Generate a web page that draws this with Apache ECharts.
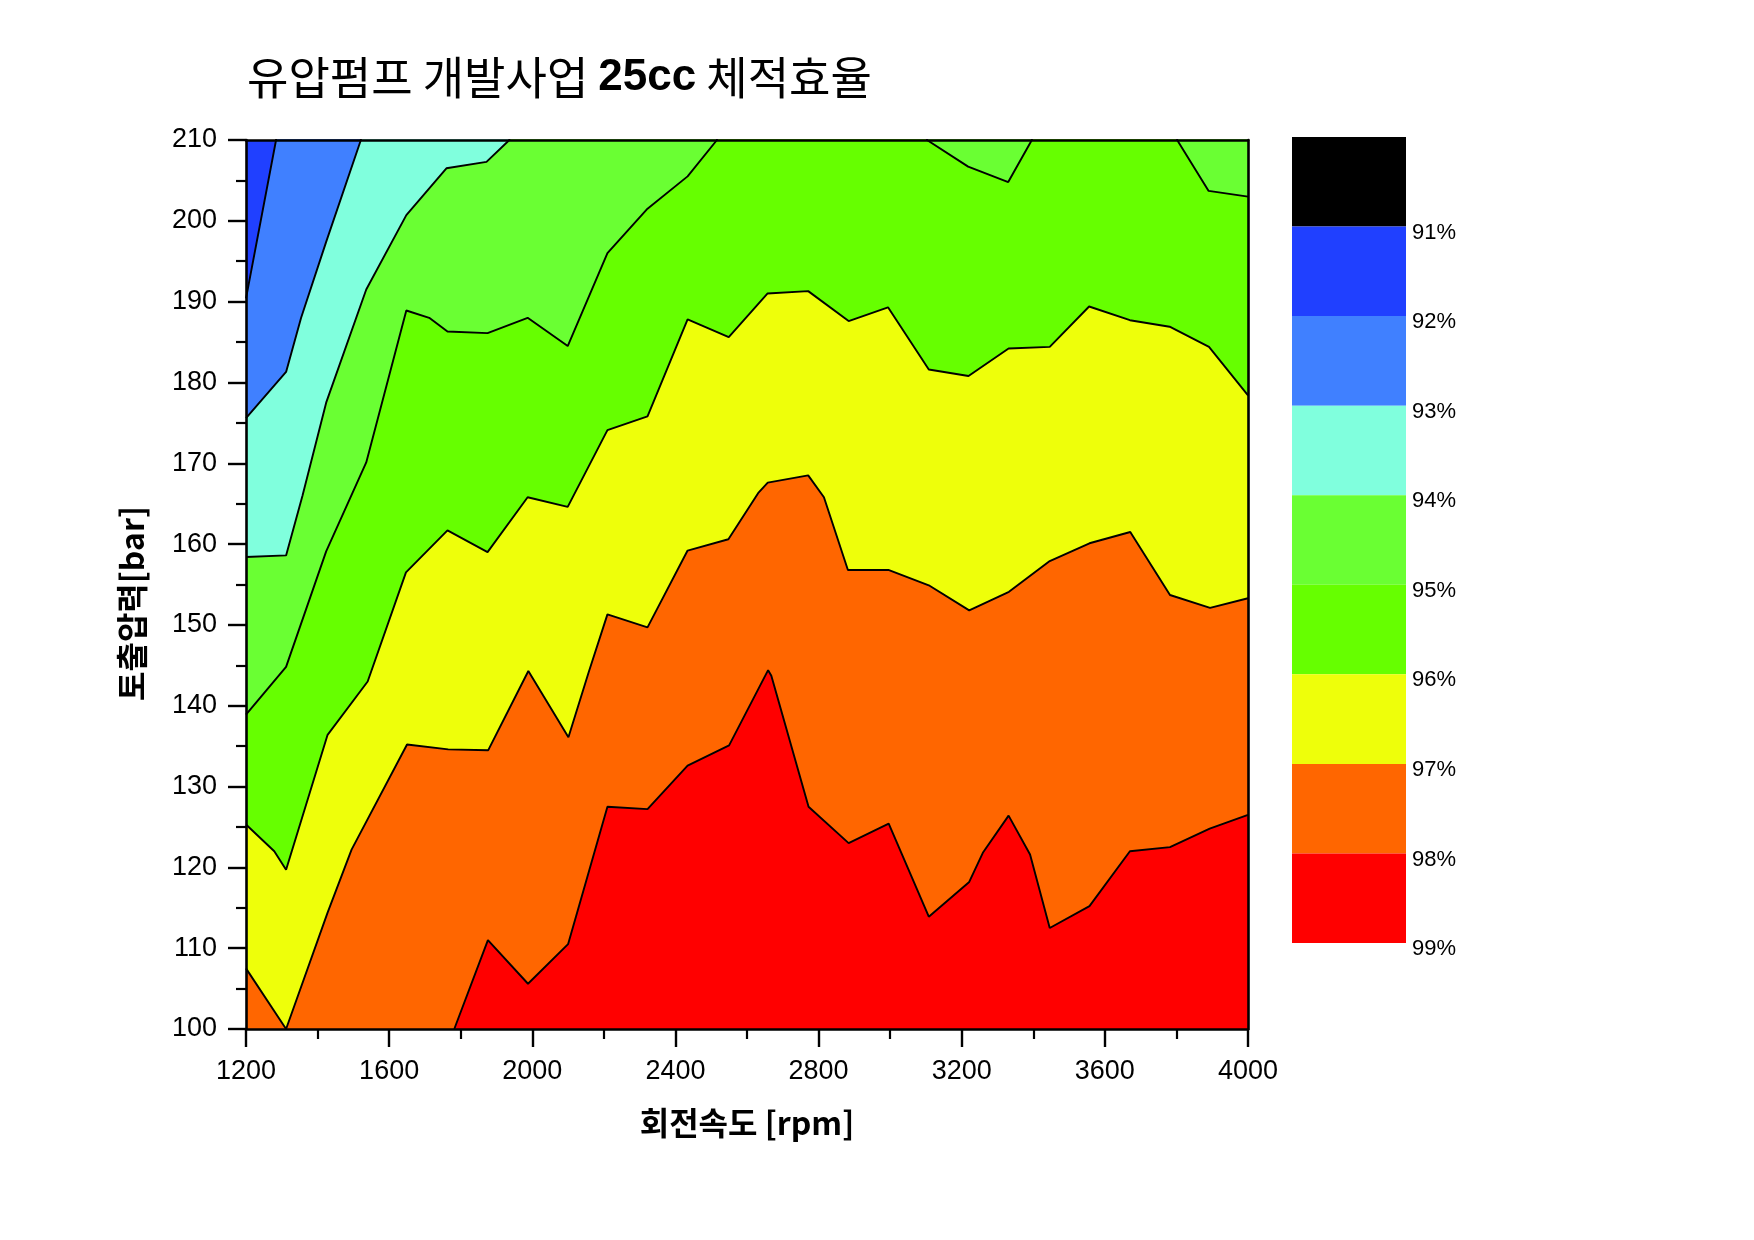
<!DOCTYPE html>
<html>
<head>
<meta charset="utf-8">
<script src="https://cdn.jsdelivr.net/npm/echarts@6/dist/echarts.min.js"></script>
<style>
html,body{margin:0;padding:0;background:#fff;}
#chart{width:1754px;height:1240px;}
</style>
</head>
<body>
<div id="chart"></div>
<script>
// ---- axis settings ----
const xTitle = '회전속도 [rpm]';
const yTitle = '토출압력[bar]';
const chartTitleParts = ['유압펌프 개발사업 ', '25cc', ' 체적효율'];
const xRange = [1200, 4000];
const yRange = [100, 210];

// ---- contour level colours (top of colour bar to bottom) ----
const levelColors = ['#000000', '#2040FF', '#4080FF', '#80FFDD', '#6AFF33', '#66FF00', '#EEFF0A', '#FF6600', '#FF0000'];
const colorbarLabels = ['91%', '92%', '93%', '94%', '95%', '96%', '97%', '98%', '99%'];

// ---- contour boundaries [rpm, bar] (values above 210 run out of the plot top) ----
const region91 = [[1200, 230], [4000, 230]];
const c92 = [[1200, 190.4], [1284, 210], [1290, 230], [4000, 230]];
const c93 = [[1200, 175.6], [1312, 181.3], [1354, 188.0], [1424, 197.4], [1521, 210], [1527, 230], [4000, 230]];
const c94 = [[1200, 158.4], [1312, 158.6], [1358, 166.0], [1424, 177.5], [1536, 191.5], [1648, 200.7], [1760, 206.5], [1872, 207.3], [1936, 210], [1942, 230], [4000, 230]];
const c95 = [[1200, 138.9], [1312, 144.8], [1424, 159.1], [1536, 170.1], [1648, 188.9], [1712, 188.0], [1763, 186.3], [1875, 186.1], [1987, 188.0], [2099, 184.5], [2210, 196.0], [2322, 201.5], [2434, 205.5], [2516, 210], [2522, 230], [3097, 230], [3103, 210], [3218, 206.7], [3330, 204.8], [3396, 210], [3402, 230], [3796, 230], [3802, 210], [3890, 203.7], [4000, 203.0]];
const c96 = [[1200, 125.3], [1279, 122.0], [1312, 119.7], [1428, 136.4], [1540, 143.0], [1647, 156.5], [1763, 161.7], [1875, 159.0], [1987, 165.8], [2099, 164.6], [2210, 174.1], [2322, 175.8], [2434, 187.8], [2549, 185.6], [2657, 191.0], [2771, 191.3], [2884, 187.6], [2994, 189.3], [3108, 181.6], [3219, 180.8], [3331, 184.2], [3446, 184.4], [3556, 189.4], [3670, 187.7], [3781, 186.9], [3891, 184.4], [4000, 178.4]];
const c97 = [[1200, 107.5], [1312, 100.0], [1428, 114.4], [1495, 122.2], [1650, 135.2], [1765, 134.6], [1877, 134.5], [1989, 144.3], [2101, 136.1], [2158, 144.2], [2210, 151.3], [2322, 149.7], [2434, 159.2], [2548, 160.6], [2631, 166.3], [2658, 167.6], [2771, 168.5], [2815, 165.8], [2882, 156.8], [2995, 156.8], [3108, 154.9], [3221, 151.8], [3332, 154.1], [3446, 157.9], [3557, 160.1], [3671, 161.5], [3782, 153.7], [3894, 152.1], [4000, 153.3]];
const c98 = [[1782, 100.0], [1876, 111.0], [1988, 105.6], [2100, 110.5], [2210, 127.5], [2322, 127.2], [2434, 132.6], [2550, 135.1], [2659, 144.4], [2668, 143.7], [2772, 127.5], [2884, 123.0], [2996, 125.4], [3108, 113.9], [3221, 118.2], [3259, 121.8], [3331, 126.4], [3391, 121.6], [3446, 112.5], [3557, 115.2], [3670, 122.0], [3782, 122.5], [3893, 124.8], [4000, 126.5]];

const boundaries = [region91, c92, c93, c94, c95, c96, c97, c98];
const fillColors = levelColors.slice(1); // 91-92 ... 98-99

const chart = echarts.init(document.getElementById('chart'), null, {renderer: 'canvas'});

const tickFont = 'Liberation Sans, Arial, sans-serif';
const krFont = 'Noto Sans CJK KR, sans-serif';

const contourSeries = boundaries.map((pts, i) => ({
  type: 'line',
  name: 'level' + i,
  xAxisIndex: 0,
  yAxisIndex: 0,
  data: pts,
  symbol: 'none',
  smooth: false,
  clip: true,
  silent: true,
  lineStyle: {color: '#000', width: i === 0 ? 0 : 1.9},
  areaStyle: {color: fillColors[i], opacity: 1, origin: 'start'},
  z: 2
}));

const colorbarSeries = levelColors.map((c, i) => ({
  type: 'bar',
  xAxisIndex: 2,
  yAxisIndex: 2,
  stack: 'cb',
  data: [1],
  barWidth: '100%',
  silent: true,
  itemStyle: {color: c},
  z: 2
}));

const option = {
  animation: false,
  backgroundColor: '#fff',
  title: {
    text: '{a|' + chartTitleParts[0] + '}{b|' + chartTitleParts[1] + '}{a|' + chartTitleParts[2] + '}',
    left: 242,
    top: 50,
    textStyle: {
      rich: {
        a: {fontFamily: krFont, fontSize: 45, color: '#000', fontWeight: 'normal'},
        b: {fontFamily: tickFont, fontSize: 44, color: '#000', fontWeight: 'bold'}
      }
    }
  },
  grid: [
    {left: 246, top: 140, width: 1002, height: 889, show: false},
    {left: 1292, top: 137, width: 114, height: 806, show: false}
  ],
  xAxis: [
    {
      type: 'value', gridIndex: 0, min: xRange[0], max: xRange[1], interval: 400, z: 10,
      name: xTitle, nameLocation: 'middle', nameGap: 78,
      nameTextStyle: {fontFamily: krFont, fontSize: 32, fontWeight: 'bold', color: '#000', lineHeight: 32},
      axisLine: {show: true, onZero: false, lineStyle: {color: '#000', width: 2.6}},
      axisTick: {show: true, inside: false, length: 18, lineStyle: {color: '#000', width: 2.4}},
      minorTick: {show: true, splitNumber: 2, length: 10, lineStyle: {color: '#000', width: 2.2}},
      axisLabel: {fontFamily: tickFont, fontSize: 27, color: '#000', margin: 29, formatter: v => String(v)},
      splitLine: {show: false}
    },
    {
      type: 'value', gridIndex: 0, position: 'top', min: xRange[0], max: xRange[1], interval: 400, z: 10,
      axisLine: {show: true, onZero: false, lineStyle: {color: '#000', width: 2.6}},
      axisTick: {show: false}, axisLabel: {show: false}, splitLine: {show: false}
    },
    {
      type: 'category', gridIndex: 1, data: ['cb'], show: false
    }
  ],
  yAxis: [
    {
      type: 'value', gridIndex: 0, min: yRange[0], max: yRange[1], interval: 10, z: 10,
      name: yTitle, nameLocation: 'middle', nameRotate: 90, nameGap: 98,
      nameTextStyle: {fontFamily: krFont, fontSize: 32, fontWeight: 'bold', color: '#000', lineHeight: 32, padding: [0, 38, 0, 0]},
      axisLine: {show: true, onZero: false, lineStyle: {color: '#000', width: 2.6}},
      axisTick: {show: true, inside: false, length: 18, lineStyle: {color: '#000', width: 2.4}},
      minorTick: {show: true, splitNumber: 2, length: 10, lineStyle: {color: '#000', width: 2.2}},
      axisLabel: {fontFamily: tickFont, fontSize: 27, color: '#000', margin: 29, formatter: v => String(v)},
      splitLine: {show: false}
    },
    {
      type: 'value', gridIndex: 0, position: 'right', min: yRange[0], max: yRange[1], interval: 10, z: 10,
      axisLine: {show: true, onZero: false, lineStyle: {color: '#000', width: 2.6}},
      axisTick: {show: false}, axisLabel: {show: false}, splitLine: {show: false}
    },
    {
      type: 'value', gridIndex: 1, position: 'right', inverse: true, min: 0, max: levelColors.length, interval: 1,
      axisLine: {show: false}, axisTick: {show: false}, splitLine: {show: false},
      axisLabel: {
        show: true, margin: 6, fontFamily: tickFont, fontSize: 22, color: '#000',
        verticalAlign: 'top', lineHeight: 12,
        formatter: v => (v >= 1 && v <= colorbarLabels.length) ? colorbarLabels[v - 1] : ''
      }
    }
  ],
  series: contourSeries.concat(colorbarSeries)
};

chart.setOption(option);
</script>
</body>
</html>
